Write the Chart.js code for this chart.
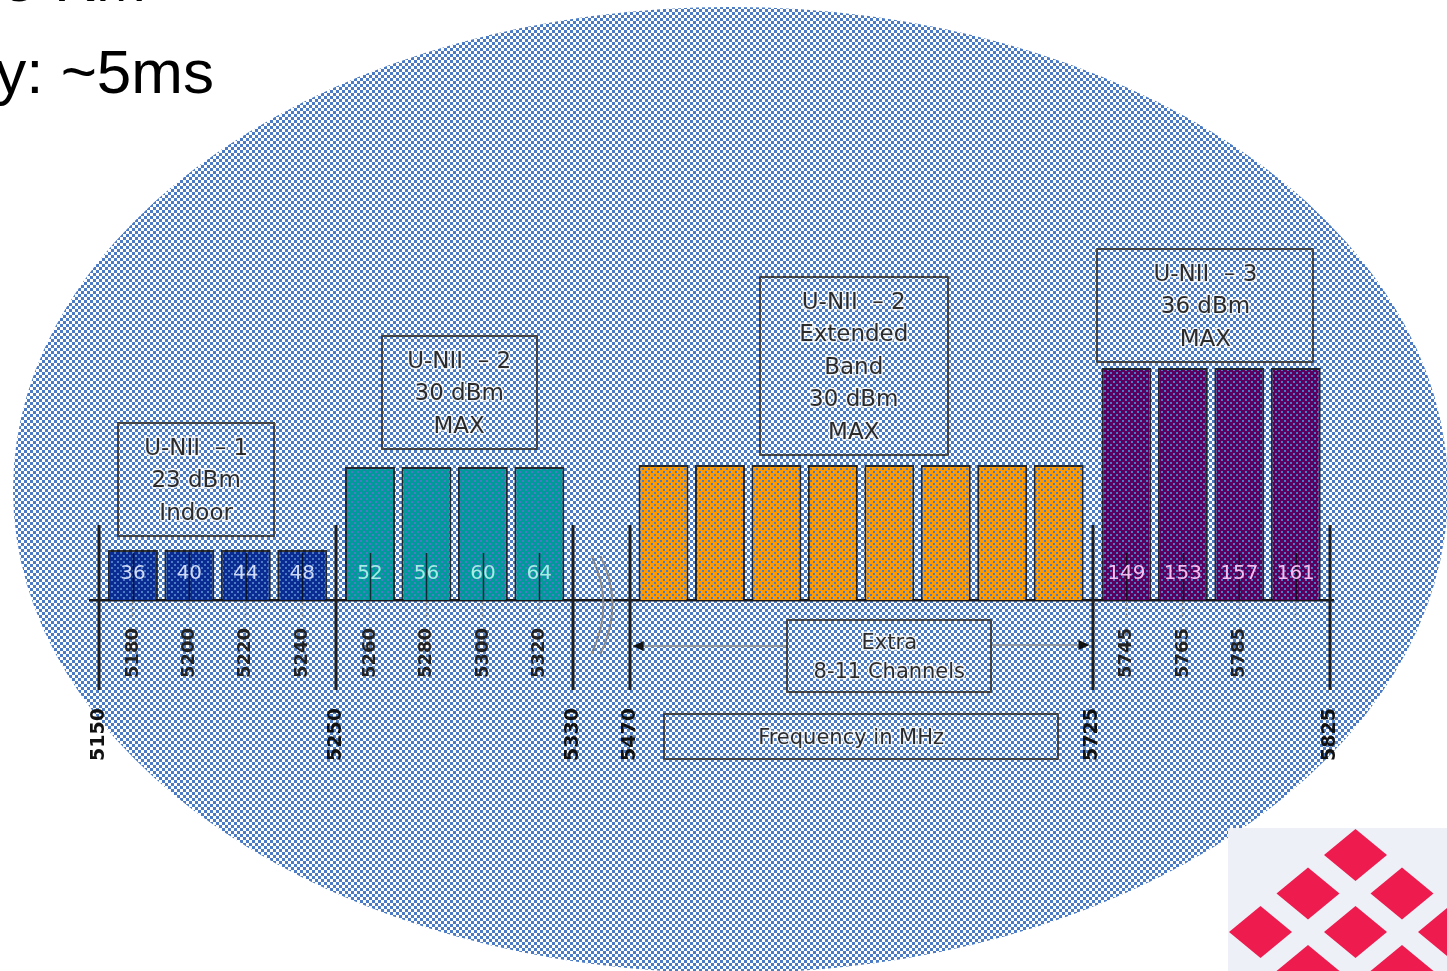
<!DOCTYPE html>
<html>
<head>
<meta charset="utf-8">
<script src="https://cdn.jsdelivr.net/npm/chart.js@4.4.1/dist/chart.umd.min.js"></script>
<style>
html,body{margin:0;padding:0;background:#fff;overflow:hidden}
#wrap{position:relative;width:1447px;height:971px}
canvas{display:block}
</style>
</head>
<body>
<div id="wrap"><canvas id="c" width="1447" height="971"></canvas></div>
<script>
// ---------------- data ----------------
const bandNames = ['U-NII – 1', 'U-NII – 2', 'U-NII – 2 Extended Band', 'U-NII – 3'];
const bandTitleLines = [['U-NII  – 1'], ['U-NII  – 2'], ['U-NII  – 2', 'Extended', 'Band'], ['U-NII  – 3']];
const bandPowerDbm = [23, 30, 30, 36];
const bandNotes = ['Indoor', 'MAX', 'MAX', 'MAX'];
const bandEdgesMHz = [[5150, 5250], [5250, 5330], [5470, 5725], [5725, 5825]];

const channels1 = [36, 40, 44, 48];
const channels2 = [52, 56, 60, 64];
const channelsExt = [null, null, null, null, null, null, null, null];
const channels3 = [149, 153, 157, 161];

const freqs1 = [5180, 5200, 5220, 5240];
const freqs2 = [5260, 5280, 5300, 5320];
const freqsExt = [null, null, null, null, null, null, null, null];
const freqs3 = [5745, 5765, 5785, null];

// relative bar heights (drawing of allowed power)
const heights1 = [1.0, 1.0, 1.0, 1.0];
const heights2 = [2.66, 2.66, 2.66, 2.66];
const heightsExt = [2.7, 2.7, 2.7, 2.7, 2.7, 2.7, 2.7, 2.7];
const heights3 = [4.64, 4.64, 4.64, 4.64];

const extraNote = ['Extra', '8-11 Channels'];
const axisTitle = 'Frequency in MHz';
const headerLines = ['Range: ~5 KM', 'Latency: ~5ms'];

// ---------------- schematic layout of the frequency axis ----------------
const EDGE_PAD = 0.6;   // slot units between band edge and first/last channel
const BREAK_GAP = 1.0;  // axis break between non-adjacent bands

const bands = [
  { ch: channels1, f: freqs1, h: heights1, edges: bandEdgesMHz[0] },
  { ch: channels2, f: freqs2, h: heights2, edges: bandEdgesMHz[1] },
  { ch: channelsExt, f: freqsExt, h: heightsExt, edges: bandEdgesMHz[2] },
  { ch: channels3, f: freqs3, h: heights3, edges: bandEdgesMHz[3] }
];
const edgePos = [];
(function () {
  let cursor = 0, prevEnd = null;
  bands.forEach(b => {
    const [e0, e1] = b.edges;
    if (prevEnd !== null && e0 !== prevEnd) cursor += BREAK_GAP;
    if (prevEnd !== e0) edgePos.push({ v: cursor, label: String(e0) });
    b.startPos = cursor;
    b.pos = b.h.map((_, i) => cursor + EDGE_PAD + i);
    cursor = cursor + 2 * EDGE_PAD + (b.h.length - 1);
    b.endPos = cursor;
    edgePos.push({ v: cursor, label: String(e1) });
    prevEnd = e1;
  });
})();

const channelTicks = [];
bands.forEach(b => b.pos.forEach((p, i) => {
  if (b.ch[i] !== null) channelTicks.push({ v: p, label: b.f[i] === null ? '' : String(b.f[i]) });
}));

const X_MIN = edgePos[0].v - 0.16;
const X_MAX = edgePos[edgePos.length - 1].v + 0.06;

// ---------------- styles ----------------
const DITHER = '#4a7bc4';
const bandFill = ['#0a2c92', '#009a9a', '#ff9900', '#5c0060'];
const bandLabelColor = ['#d0dbf7', '#a6ece4', '#ffffff', '#f4bdf0'];

// 50% checker (background / boxes)
function makeChecker(base) {
  const c = document.createElement('canvas');
  c.width = 6; c.height = 6;
  const g = c.getContext('2d');
  g.fillStyle = base; g.fillRect(0, 0, 6, 6);
  g.fillStyle = DITHER;
  g.fillRect(0, 0, 3, 3); g.fillRect(3, 3, 3, 3);
  return g.createPattern(c, 'repeat');
}
// lighter dither over coloured bars
function makeBarPattern(base) {
  const c = document.createElement('canvas');
  c.width = 6; c.height = 6;
  const g = c.getContext('2d');
  g.fillStyle = base; g.fillRect(0, 0, 6, 6);
  g.fillStyle = DITHER;
  g.fillRect(0, 0, 2, 2); g.fillRect(3, 3, 2, 2);
  return g.createPattern(c, 'repeat');
}
const bgPattern = makeChecker('#ffffff');

const boxSpecs = [
  { dx: -0.38, w: 156, gap: 14 },
  { dx: 0.08, w: 155, gap: 18 },
  { dx: -0.13, w: 188, gap: 10 },
  { dx: -0.10, w: 216, gap: 6 }
];

function patternBox(ctx, x, y, w, h) {
  ctx.save();
  ctx.fillStyle = bgPattern;
  ctx.fillRect(x, y, w, h);
  ctx.strokeStyle = '#444';
  ctx.lineWidth = 2;
  ctx.strokeRect(x, y, w, h);
  ctx.restore();
}
function haloText(ctx, t, x, y) {
  ctx.lineJoin = 'round';
  ctx.strokeStyle = 'rgba(255,255,255,0.75)';
  ctx.lineWidth = 3;
  ctx.strokeText(t, x, y);
  ctx.fillStyle = '#2b2b2b';
  ctx.fillText(t, x, y);
}

const decor = {
  id: 'decor',
  beforeDraw(chart) {
    const ctx = chart.ctx;
    ctx.save();
    ctx.fillStyle = '#fff';
    ctx.fillRect(0, 0, chart.width, chart.height);
    ctx.beginPath();
    ctx.ellipse(730.5, 490, 717.5, 483, 0, 0, Math.PI * 2);
    ctx.fillStyle = bgPattern;
    ctx.fill();
    ctx.restore();
  },
  afterDatasetsDraw(chart) {
    const ctx = chart.ctx;
    const xs = chart.scales.x, ys = chart.scales.y;
    ctx.save();
    // channel centre lines
    ctx.strokeStyle = 'rgba(10,10,10,0.75)';
    ctx.lineWidth = 1.5;
    bands.forEach(b => b.pos.forEach((p, i) => {
      if (b.ch[i] === null) return;
      const px = Math.round(xs.getPixelForValue(p)) + 0.5;
      ctx.beginPath();
      ctx.moveTo(px, ys.getPixelForValue(0.94));
      ctx.lineTo(px, ys.getPixelForValue(0));
      ctx.stroke();
    }));
    // band edge lines
    ctx.strokeStyle = '#1e1e1e';
    ctx.lineWidth = 3;
    edgePos.forEach(e => {
      const px = Math.round(xs.getPixelForValue(e.v));
      ctx.beginPath();
      ctx.moveTo(px, ys.getPixelForValue(1.5));
      ctx.lineTo(px, xs.bottom);
      ctx.stroke();
    });
    // channel numbers inside bars
    ctx.font = '20px "DejaVu Sans"';
    ctx.textAlign = 'center';
    ctx.textBaseline = 'middle';
    bands.forEach((b, k) => {
      const meta = chart.getDatasetMeta(k);
      meta.data.forEach((bar, i) => {
        if (b.ch[i] === null) return;
        ctx.fillStyle = bandLabelColor[k];
        ctx.fillText(String(b.ch[i]), bar.x, ys.getPixelForValue(0.52));
      });
    });
    ctx.restore();
  },
  afterDraw(chart) {
    const ctx = chart.ctx;
    const xs = chart.scales.x, ys = chart.scales.y;
    const axisY = ys.getPixelForValue(0);
    ctx.save();
    // band boxes
    bands.forEach((b, k) => {
      const sp = boxSpecs[k];
      const lines = bandTitleLines[k].concat([bandPowerDbm[k] + ' dBm', bandNotes[k]]);
      const cx = xs.getPixelForValue((b.pos[0] + b.pos[b.pos.length - 1]) / 2 + sp.dx);
      const barTop = ys.getPixelForValue(b.h[0]);
      const h = (lines.length - 1) * 32.5 + 48;
      const bottom = barTop - sp.gap;
      const top = bottom - h;
      patternBox(ctx, Math.round(cx - sp.w / 2), Math.round(top), sp.w, Math.round(h));
      ctx.font = '23px "DejaVu Sans"';
      ctx.textAlign = 'center';
      ctx.textBaseline = 'middle';
      lines.forEach((t, i) => haloText(ctx, t, cx, top + 26 + i * 32.5));
    });
    // "Extra" box + arrows
    const ext = bands[2];
    const extCx = xs.getPixelForValue((ext.pos[0] + ext.pos[ext.pos.length - 1]) / 2 + 0.5);
    const ebW = 204, ebH = 72, ebTop = axisY + 20;
    const ebL = Math.round(extCx - ebW / 2), ebR = ebL + ebW;
    const leftEdge = xs.getPixelForValue(ext.startPos) + 3;
    const rightEdge = xs.getPixelForValue(ext.endPos) - 3;
    ctx.strokeStyle = '#8c8c8c';
    ctx.lineWidth = 1.5;
    ctx.beginPath();
    ctx.moveTo(ebL, axisY + 46); ctx.lineTo(leftEdge + 8, axisY + 46);
    ctx.moveTo(ebR, axisY + 45); ctx.lineTo(rightEdge - 8, axisY + 45);
    ctx.stroke();
    ctx.fillStyle = '#111';
    ctx.beginPath();
    ctx.moveTo(leftEdge, axisY + 46); ctx.lineTo(leftEdge + 11, axisY + 41); ctx.lineTo(leftEdge + 11, axisY + 51); ctx.closePath();
    ctx.fill();
    ctx.beginPath();
    ctx.moveTo(rightEdge, axisY + 45); ctx.lineTo(rightEdge - 11, axisY + 40); ctx.lineTo(rightEdge - 11, axisY + 50); ctx.closePath();
    ctx.fill();
    patternBox(ctx, ebL, ebTop, ebW, ebH);
    ctx.font = '21px "DejaVu Sans"';
    ctx.textAlign = 'center';
    ctx.textBaseline = 'middle';
    haloText(ctx, extraNote[0], extCx, ebTop + 24);
    haloText(ctx, extraNote[1], extCx, ebTop + 53);
    // axis title box
    const atCx = xs.getPixelForValue((ext.pos[0] + ext.pos[ext.pos.length - 1]) / 2);
    const atW = 394, atH = 45, atTop = axisY + 114;
    patternBox(ctx, Math.round(atCx - atW / 2), atTop, atW, atH);
    haloText(ctx, axisTitle, atCx - 10, atTop + 25);
    // axis break marks
    const bx = (xs.getPixelForValue(bands[1].endPos) + xs.getPixelForValue(ext.startPos)) / 2 - 10;
    ctx.strokeStyle = '#8a8a8a';
    ctx.lineWidth = 2;
    [0, 9].forEach(o => {
      ctx.beginPath();
      ctx.moveTo(bx + o, axisY - 44);
      ctx.quadraticCurveTo(bx + o + 24, axisY + 4, bx + o, axisY + 54);
      ctx.stroke();
    });
    // header text (slide)
    ctx.fillStyle = '#000';
    ctx.font = '62px "Liberation Sans"';
    ctx.textAlign = 'right';
    ctx.textBaseline = 'alphabetic';
    ctx.fillText(headerLines[0], 147, 1);
    ctx.fillText(headerLines[1], 214, 93);
    // logo
    ctx.fillStyle = '#edf1f7';
    ctx.fillRect(1228, 828, 219, 143);
    ctx.fillStyle = '#ee1b4f';
    [[1355.5, 855], [1308, 893.5], [1402, 893.5], [1260.5, 932], [1355.5, 932], [1449.5, 932], [1308, 971], [1402, 971]].forEach(([cx, cy]) => {
      ctx.beginPath();
      ctx.moveTo(cx, cy - 26); ctx.lineTo(cx + 31.5, cy); ctx.lineTo(cx, cy + 26); ctx.lineTo(cx - 31.5, cy); ctx.closePath();
      ctx.fill();
    });
    ctx.restore();
  }
};

const datasets = bands.map((b, k) => ({
  label: bandNames[k],
  data: b.pos.map((p, i) => ({ x: p, y: b.h[i] })),
  backgroundColor: makeBarPattern(bandFill[k]),
  borderColor: 'rgba(15,15,15,0.85)',
  borderWidth: 2,
  borderSkipped: 'start',
  grouped: false,
  barPercentage: 0.885,
  categoryPercentage: 1.0
}));

new Chart(document.getElementById('c'), {
  type: 'bar',
  data: { datasets },
  options: {
    responsive: false,
    animation: false,
    devicePixelRatio: 1,
    events: [],
    layout: { padding: { left: 90, right: 114, top: 0, bottom: 191 } },
    plugins: { legend: { display: false }, tooltip: { enabled: false }, title: { display: false } },
    scales: {
      x: {
        type: 'linear', position: 'bottom', min: X_MIN, max: X_MAX, bounds: 'data', offset: false,
        grid: { display: true, offset: false, drawOnChartArea: false, drawTicks: true, tickLength: 20,
                tickColor: '#8a8a8a', tickWidth: 1.5, tickBorderDash: [3, 3] },
        border: { display: true, color: '#1a1a1a', width: 2.5 },
        ticks: { autoSkip: false, minRotation: 90, maxRotation: 90, padding: 8, color: '#222',
                 font: { family: 'DejaVu Sans', size: 18, weight: 'bold' },
                 callback: (v, i) => channelTicks[i] ? channelTicks[i].label : '' },
        afterBuildTicks: s => { s.ticks = channelTicks.map(t => ({ value: t.v })); },
        afterFit: s => { s.height = 90; }
      },
      x2: {
        type: 'linear', position: 'bottom', weight: 1, min: X_MIN, max: X_MAX, bounds: 'data', offset: false,
        grid: { display: false, drawTicks: false, offset: false },
        border: { display: false },
        ticks: { autoSkip: false, minRotation: 90, maxRotation: 90, padding: 18, color: '#111',
                 font: { family: 'DejaVu Sans', size: 19, weight: 'bold' },
                 callback: (v, i) => edgePos[i] ? edgePos[i].label : '' },
        afterBuildTicks: s => { s.ticks = edgePos.map(t => ({ value: t.v })); },
        afterFit: s => { s.height = 90; }
      },
      y: { display: false, min: 0, max: 12 }
    }
  },
  plugins: [decor]
});
</script>
</body>
</html>
